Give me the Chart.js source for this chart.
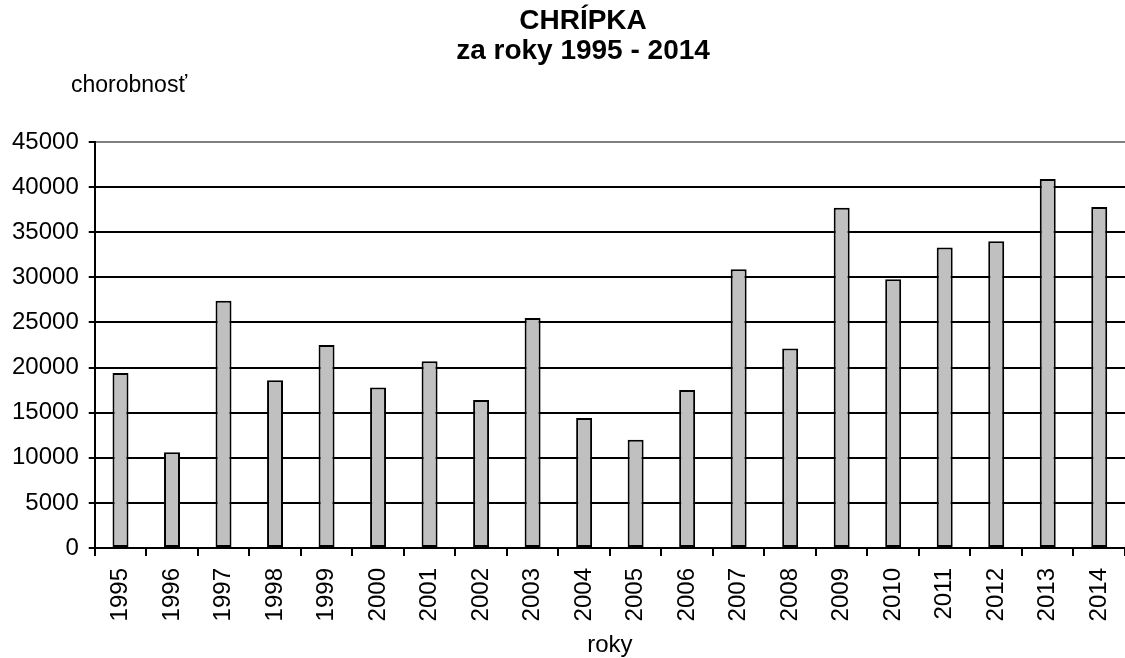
<!DOCTYPE html>
<html>
<head>
<meta charset="utf-8">
<title>Chrípka 1995 - 2014</title>
<script src="https://cdn.jsdelivr.net/npm/chart.js@4.4.0/dist/chart.umd.min.js"></script>
<style>
  body { margin: 0; background: #fff; }
  #wrap { width: 1125px; height: 658px; }
</style>
</head>
<body>
<div id="wrap"><canvas id="chart" width="1125" height="658"></canvas></div>
<script>
const years = ["1995", "1996", "1997", "1998", "1999", "2000", "2001", "2002", "2003", "2004",
  "2005", "2006", "2007", "2008", "2009", "2010", "2011", "2012", "2013", "2014"];
const cases = [19400, 10600, 27400, 18600, 22500, 17800, 20700, 16400, 25500, 14400,
  12000, 17500, 30900, 22100, 37700, 29800, 33300, 34000, 40900, 37800];
const yMax = 45000,
  yStep = 5000;
const titleLines = ["CHRÍPKA", "za roky 1995 - 2014"];
const yLabel = "chorobnosť",
  xLabel = "roky";

const fontFamily = "'Liberation Sans', Arial, sans-serif";
Chart.defaults.font.family = fontFamily;
Chart.defaults.color = "#000";

// title + label above y axis, drawn where the original has them
const headerText = {
  id: "headerText",
  afterDraw(chart) {
    const c = chart.ctx;
    c.save();
    c.fillStyle = "#000";
    c.textBaseline = "alphabetic";
    c.textAlign = "center";
    c.font = "bold 28px " + fontFamily;
    c.fillText(titleLines[0], 583, 29);
    c.fillText(titleLines[1], 583, 59);
    c.textAlign = "left";
    c.font = "23px " + fontFamily;
    c.fillText(yLabel, 71, 92);
    c.restore();
  },
};

new Chart(document.getElementById("chart"), {
  type: "bar",
  data: {
    labels: years,
    datasets: [
      {
        label: "chorobnosť",
        data: cases,
        backgroundColor: "#C0C0C0",
        borderColor: "#000",
        borderWidth: 2,
        borderSkipped: false,
        categoryPercentage: 1,
        barPercentage: 0.31,
      },
    ],
  },
  options: {
    responsive: false,
    animation: false,
    layout: { padding: { left: 2, right: 0, top: 142, bottom: 0 } },
    plugins: {
      legend: { display: false },
      tooltip: { enabled: false },
    },
    scales: {
      x: {
        // plot runs to the right edge, axis block fixed so plot bottom sits at y=548
        afterFit: (s) => {
          s.paddingLeft = 0;
          s.paddingRight = 0;
          s.height = 110;
        },
        grid: {
          drawOnChartArea: false,
          tickLength: 8,
          color: "#000",
          lineWidth: 2,
          offset: true,
        },
        border: { color: "#000", width: 2 },
        ticks: {
          font: { size: 24 },
          minRotation: 90,
          maxRotation: 90,
          padding: 12,
          autoSkip: false,
        },
        title: {
          display: true,
          text: xLabel,
          font: { size: 24, lineHeight: 1 },
          padding: { top: 0, bottom: 1 },
        },
      },
      y: {
        min: 0,
        max: yMax,
        ticks: {
          stepSize: yStep,
          font: { size: 24 },
          padding: 10,
          callback: (v) => String(v),
        },
        grid: {
          color: (ctx) => (ctx.tick && ctx.tick.value === yMax ? "#808080" : "#000"),
          tickColor: "#000",
          lineWidth: 2,
          tickLength: 6,
        },
        border: { color: "#000", width: 2 },
      },
    },
  },
  plugins: [headerText],
});
</script>
</body>
</html>
